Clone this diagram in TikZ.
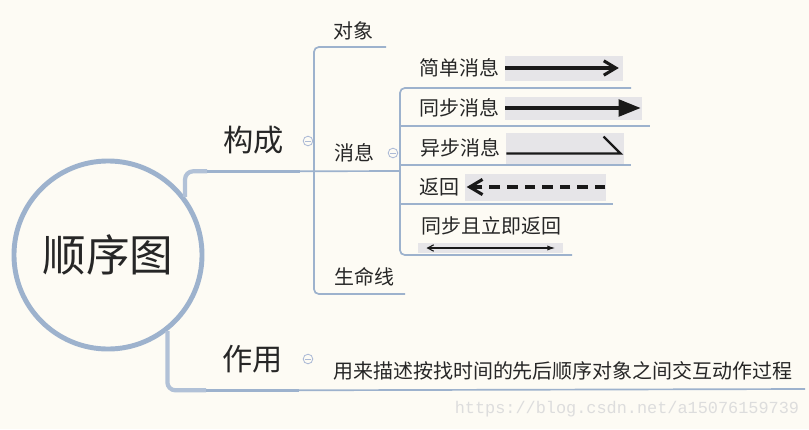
\documentclass[tikz,border=0pt]{standalone}
\usepackage{fontspec}
\setmainfont{Noto Sans CJK SC}
\newfontfamily\wmfont{Liberation Mono}
\usetikzlibrary{arrows.meta, positioning}
\definecolor{paper}{RGB}{253,251,244}
\definecolor{branch}{RGB}{157,178,205}
\definecolor{foldring}{RGB}{172,186,214}
\definecolor{icongray}{RGB}{230,229,232}
\definecolor{ink}{RGB}{38,38,38}
\definecolor{wmgray}{RGB}{221,221,221}

\begin{document}
\begin{tikzpicture}[
  x=0.025cm, y=-0.025cm,
  root/.style   = {circle, draw=branch, line width=3.5pt, minimum size=4.7cm,
                   font=\fontsize{31}{34}\selectfont, text=ink},
  topic/.style  = {inner sep=0pt, minimum width=2.3cm, minimum height=1.55cm,
                   font=\fontsize{21.5}{24}\selectfont, text=ink},
  leaf/.style   = {inner sep=0pt, anchor=west,
                   font=\fontsize{14.2}{16}\selectfont, text=ink},
  icon/.style   = {rectangle, fill=icongray, inner sep=0pt},
  fold/.style   = {circle, draw=foldring, line width=0.6pt, minimum size=0.24cm,
                   inner sep=0pt,
                   path picture={\draw[foldring, line width=0.6pt]
                     ([xshift=-0.07cm]path picture bounding box.center) --
                     ([xshift=0.07cm]path picture bounding box.center);}},
  wm/.style     = {inner sep=0pt, text=wmgray, font=\wmfont\fontsize{12}{14}\selectfont},
  stem/.style   = {draw=branch!80, line width=3pt, rounded corners=0.2cm},
  bar/.style    = {draw=branch, line width=2.5pt},
  twig/.style   = {draw=branch, line width=1.2pt, rounded corners=0.12cm},
  msg/.style    = {draw=black!90, line width=2.2pt},
]
  \path[use as bounding box, fill=paper] (0,0) rectangle (809,429);

  % Root
  \node[root] (seq) at (108,255) {顺序图};

  % Topics
  \node[topic] (parts) at (253.5,140) {构成};
  \node[topic] (usage) at (252.5,359) {作用};
  \node[fold] (parts-fold) at (308,141) {};
  \node[fold] (usage-fold) at (308,359) {};

  % Parts
  \node[leaf] (object)   at (333,31)  {对象};
  \node[leaf] (message)  at (334,153) {消息};
  \node[leaf] (lifeline) at (334,277) {生命线};
  \node[fold] (message-fold) at (393,153) {};

  % Messages
  \node[leaf] (simple)    at (419,68)  {简单消息};
  \node[leaf] (sync)      at (419,108) {同步消息};
  \node[leaf] (async)     at (420,148) {异步消息};
  \node[leaf] (reply)     at (419,187) {返回};
  \node[leaf] (syncreply) at (421,226) {同步且立即返回};

  % Message pictures
  \node[icon, right=0.12cm of simple, minimum width=118*0.025cm, minimum height=25*0.025cm] (simple-pic) {};
  \node[icon, right=0.12cm of sync, minimum width=137*0.025cm, minimum height=23*0.025cm] (sync-pic) {};
  \node[icon, right=0.12cm of async, minimum width=118*0.025cm, minimum height=31*0.025cm] (async-pic) {};
  \node[icon, right=0.14cm of reply, minimum width=141*0.025cm, minimum height=27*0.025cm] (reply-pic) {};
  \node[icon, minimum width=145*0.025cm, minimum height=10*0.025cm] (syncreply-pic) at (490.5,248) {};

  \draw[msg, -{Straight Barb[length=0.3cm, width=0.36cm]}]
    ([xshift=0.03cm]simple-pic.west) -- ([xshift=-0.1cm]simple-pic.east);
  \draw[msg, -{Triangle[length=0.55cm, width=0.42cm]}]
    ([xshift=0.03cm]sync-pic.west) -- ([xshift=-0.03cm]sync-pic.east);
  \draw[msg, line width=1.6pt, line join=miter]
    ([xshift=0.03cm, yshift=-0.14cm]async-pic.west) -- ([xshift=-0.08cm, yshift=-0.14cm]async-pic.east) -- ++(-17,-17);
  \draw[msg, dash pattern=on 7.5pt off 5pt, -{Straight Barb[length=0.32cm, width=0.38cm]}]
    ([xshift=-0.03cm]reply-pic.east) -- ([xshift=0.04cm]reply-pic.west);
  \draw[msg, line width=0.8pt, {Straight Barb[length=0.15cm, width=0.16cm]}-{Latex[length=0.2cm, width=0.13cm]}]
    ([xshift=0.22cm]syncreply-pic.west) -- ([xshift=-0.2cm]syncreply-pic.east);

  % Description
  \node[leaf] (purpose) at (333,371) {用来描述按找时间的先后顺序对象之间交互动作过程};

  % Watermark
  \node[wm] (url) at (627,409) {https://blog.csdn.net/a15076159739};

  % Line ends
  \coordinate (object-end)    at (386,47);
  \coordinate (parts-fork)    at (314,171);
  \coordinate (message-end)   at (400,171);
  \coordinate (lifeline-end)  at (405,294);
  \coordinate (simple-end)    at (631,88);
  \coordinate (sync-end)      at (650,126);
  \coordinate (async-end)     at (631,165);
  \coordinate (reply-end)     at (613,204);
  \coordinate (syncreply-end) at (572,255);
  \coordinate (purpose-end)   at (805,389);

  % Branches
  \draw[stem] (seq.37) |- (parts.south west);
  \draw[bar] (parts.south west) -- (parts.south east);
  \draw[twig] (parts.south east) -- (message-end);
  \draw[twig] (object-end) -| (parts-fork) |- (lifeline-end);

  \draw[twig] (simple-end) -| (message-end) |- (syncreply-end);
  \draw[twig] (sync-end -| message-end) -- (sync-end);
  \draw[twig] (async-end -| message-end) -- (async-end);
  \draw[twig] (reply-end -| message-end) -- (reply-end);

  \draw[stem] (seq.-52) |- (usage.south west);
  \draw[bar] (usage.south west) -- (usage.south east);
  \draw[twig] (usage.south east) -- (purpose-end);
\end{tikzpicture}
\end{document}
